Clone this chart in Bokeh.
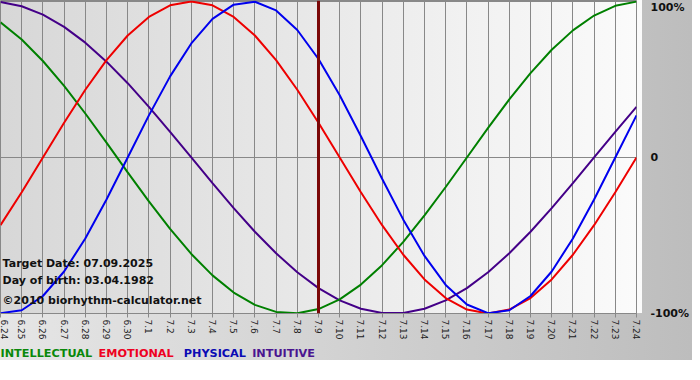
import math
from bokeh.plotting import figure
from bokeh.models import Range1d, FixedTicker, Span, Label
from bokeh.layouts import column
from bokeh.core.properties import value
from bokeh.embed import file_html
from bokeh.resources import INLINE

dates = ["6.24", "6.25", "6.26", "6.27", "6.28", "6.29", "6.30",
         "7.1", "7.2", "7.3", "7.4", "7.5", "7.6", "7.7", "7.8", "7.9",
         "7.10", "7.11", "7.12", "7.13", "7.14", "7.15", "7.16", "7.17",
         "7.18", "7.19", "7.20", "7.21", "7.22", "7.23", "7.24"]

intellectual = [0.8660, 0.7557, 0.6182, 0.4582, 0.2817, 0.0951, -0.0951, -0.2817,
                -0.4582, -0.6182, -0.7557, -0.8660, -0.9450, -0.9898, -0.9989, -0.9718,
                -0.9096, -0.8146, -0.6901, -0.5406, -0.3717, -0.1893, 0.0, 0.1893,
                0.3717, 0.5406, 0.6901, 0.8146, 0.9096, 0.9718, 0.9989]
emotional = [-0.4339, -0.2225, 0.0, 0.2225, 0.4339, 0.6235, 0.7818, 0.9010,
             0.9749, 1.0, 0.9749, 0.9010, 0.7818, 0.6235, 0.4339, 0.2225,
             0.0, -0.2225, -0.4339, -0.6235, -0.7818, -0.9010, -0.9749, -1.0,
             -0.9749, -0.9010, -0.7818, -0.6235, -0.4339, -0.2225, 0.0]
physical = [-0.9977, -0.9791, -0.8879, -0.7308, -0.5196, -0.2698, 0.0, 0.2698,
            0.5196, 0.7308, 0.8879, 0.9791, 0.9977, 0.9423, 0.8170, 0.6311,
            0.3984, 0.1362, -0.1362, -0.3984, -0.6311, -0.8170, -0.9423, -0.9977,
            -0.9791, -0.8879, -0.7308, -0.5196, -0.2698, 0.0, 0.2698]
intuitive = [0.9966, 0.9694, 0.9158, 0.8372, 0.7357, 0.6142, 0.4760, 0.3247,
             0.1646, 0.0, -0.1646, -0.3247, -0.4760, -0.6142, -0.7357, -0.8372,
             -0.9158, -0.9694, -0.9966, -0.9966, -0.9694, -0.9158, -0.8372, -0.7357,
             -0.6142, -0.4760, -0.3247, -0.1646, 0.0, 0.1646, 0.3247]

y_ticks = [-1, 0, 1]
y_tick_labels = ["-100%", "0", "100%"]
target_date = "7.9"
info_lines = ["Target Date: 07.09.2025", "Day of birth: 03.04.1982",
              "\u00a92010 biorhythm-calculator.net"]
legend_names = ["INTELLECTUAL", "EMOTIONAL", "PHYSICAL", "INTUITIVE"]
colors = ["#008000", "#ee0000", "#0000ee", "#440088"]
legend_colors = ["#0a880a", "#ee0022", "#0a0ab4", "#4a1490"]

x = list(range(len(dates)))

FIG_W = 692
FRAME_W, FRAME_H = 642, 313
OUTER_BG = "linear-gradient(to right, #e6e6e6, #bdbdbd)"

p = figure(width=FIG_W, height=FRAME_H + 33, output_backend="svg", toolbar_location=None,
           x_range=Range1d(x[0], x[-1]), y_range=Range1d(-1, 1.006),
           x_axis_location="below", y_axis_location="right",
           min_border_left=0, min_border_top=0, min_border_right=FIG_W - FRAME_W,
           min_border_bottom=33)
p.background_fill_color = None
p.border_fill_color = None
p.outline_line_color = "#888888"
p.styles = {
    "background": "linear-gradient(to right, #d7d7d7, #fbfbfb) 0px 0px / %dpx %dpx no-repeat, %s"
                  % (FRAME_W, FRAME_H, OUTER_BG)
}

# x axis
p.xaxis.ticker = FixedTicker(ticks=x)
p.xaxis.major_label_overrides = {i: d for i, d in zip(x, dates)}
p.xaxis.major_label_orientation = -math.pi / 2
p.xaxis.major_label_text_font = "DejaVu Sans"
p.xaxis.major_label_text_font_size = "9px"
p.xaxis.major_label_text_color = "#222222"
p.xaxis.major_label_standoff = 2
p.xaxis.axis_line_color = "#888888"
p.xaxis.major_tick_line_color = "#888888"
p.xaxis.major_tick_in = 0
p.xaxis.major_tick_out = 4
p.xaxis.minor_tick_line_color = None

# y axis (right)
p.yaxis.ticker = FixedTicker(ticks=y_ticks)
p.yaxis.major_label_overrides = {t: l for t, l in zip(y_ticks, y_tick_labels)}
p.yaxis.major_label_text_font = "DejaVu Sans"
p.yaxis.major_label_text_font_style = "bold"
p.yaxis.major_label_text_font_size = "11px"
p.yaxis.major_label_text_color = "#111111"
p.yaxis.major_label_standoff = 8
p.yaxis.axis_line_color = None
p.yaxis.major_tick_line_color = None
p.yaxis.minor_tick_line_color = None

p.xgrid.grid_line_color = "#888888"
p.ygrid.grid_line_color = "#888888"

series = [intellectual, emotional, physical, intuitive]
for i in [3, 0, 1, 2]:
    p.line(x, series[i], line_color=colors[i], line_width=2)

p.add_layout(Span(location=dates.index(target_date), dimension="height",
                  line_color="#7a0808", line_width=3))

px_per_unit = FRAME_H / (1.006 - (-1))
for txt, off in zip(info_lines, [50, 33, 13]):
    p.add_layout(Label(x=0.1, y=-1 + off / px_per_unit, text=txt,
                       text_font="DejaVu Sans", text_font_style="bold",
                       text_font_size="11px", text_color="#111111",
                       text_baseline="middle", text_align="left"))

# legend strip below the chart (its frame is aligned with the chart frame)
LEG_H = 14
leg = figure(width=FIG_W, height=LEG_H, output_backend="svg", toolbar_location=None,
             x_range=Range1d(0, FRAME_W), y_range=Range1d(0, LEG_H),
             x_axis_type=None, y_axis_type=None, min_border=0,
             min_border_right=FIG_W - FRAME_W)
leg.background_fill_color = None
leg.border_fill_color = None
leg.outline_line_color = None
leg.grid.visible = False
leg.styles = {"background": OUTER_BG}
leg_x = [0, 99, 185, 254]
leg.text(x=leg_x, y=[LEG_H / 2] * len(leg_x), text=legend_names,
         text_color=legend_colors, text_font=value("DejaVu Sans"),
         text_font_style="bold", text_font_size="11.25px",
         text_baseline="middle", text_align="left")

layout = column(p, leg, spacing=0)
open("out.html", "w").write(file_html(layout, INLINE))
